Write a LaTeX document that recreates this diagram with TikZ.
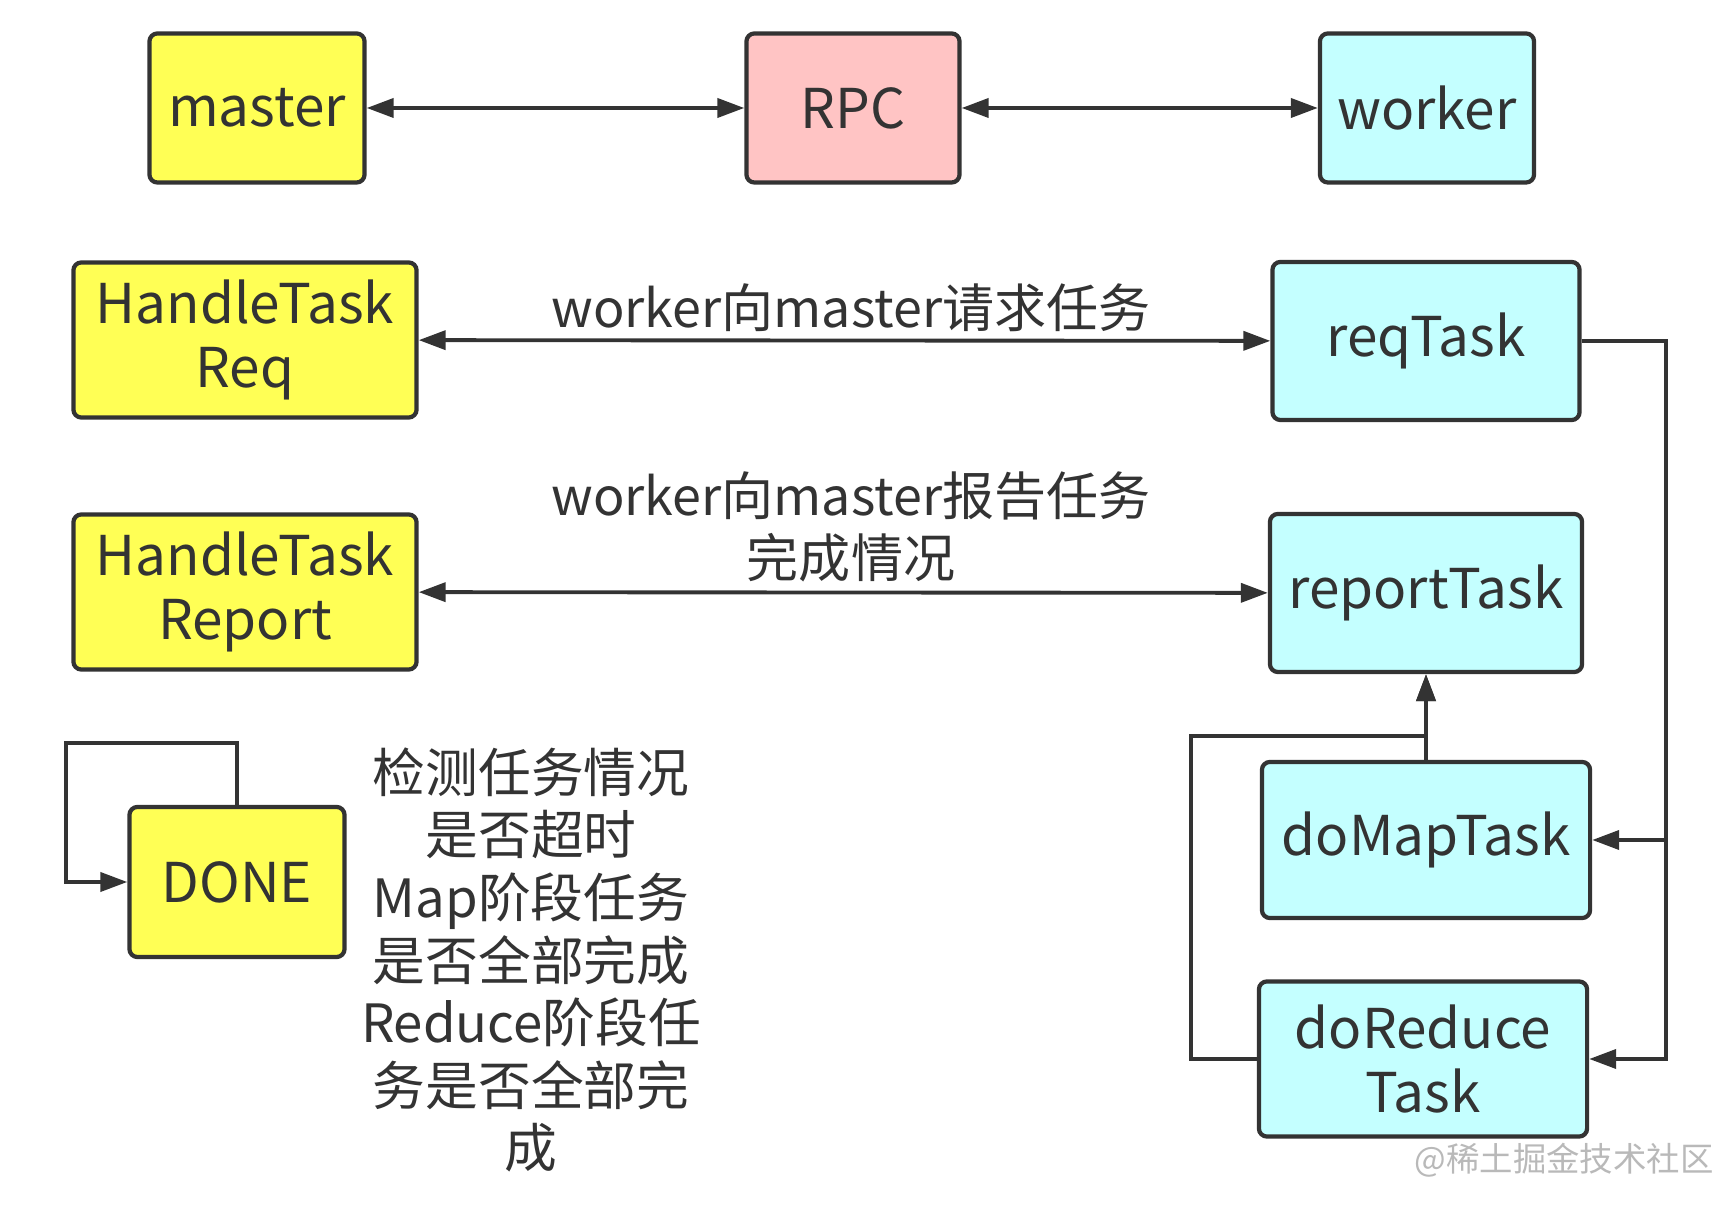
\documentclass[tikz,border=0pt]{standalone}
\usepackage{fontspec}
\setmainfont{Noto Sans CJK SC}
\usetikzlibrary{arrows.meta}
\definecolor{linec}{HTML}{333333}
\definecolor{yel}{HTML}{FFFF55}
\definecolor{pnk}{HTML}{FFC4C4}
\definecolor{cyn}{HTML}{C4FFFF}
\tikzset{
  box/.style={draw=linec,line width=1.2pt,rounded corners=0.08cm,inner sep=0pt,
    align=center,text=linec,font=\fontsize{15.6}{18.4}\selectfont},
  arr/.style={draw=linec,line width=1.1pt,-{Triangle[length=0.27cm,width=0.19cm]}},
  biarr/.style={arr,{Triangle[length=0.27cm,width=0.19cm]}-{Triangle[length=0.27cm,width=0.19cm]}},
  lbl/.style={align=center,text=linec,inner sep=0pt,font=\fontsize{14.8}{17.6}\selectfont}
}
\begin{document}
\begin{tikzpicture}[x=0.01cm,y=-0.01cm]
%\draw[gray,very thin] (0,0) grid[step=100] (1736,1210); %background grid
\useasboundingbox[fill=white] (0,0) rectangle (1736,1210);

% top row
\node[box,fill=yel,minimum width=2.15cm,minimum height=1.49cm] (master) at (257,108) {master};
\node[box,fill=pnk,minimum width=2.13cm,minimum height=1.49cm] (rpc)    at (853,108) {RPC};
\node[box,fill=cyn,minimum width=2.14cm,minimum height=1.49cm] (worker) at (1427,108) {worker};

\draw[biarr] (master) -- (rpc);
\draw[biarr] (rpc) -- (worker);

% master side
\node[box,fill=yel,minimum width=3.43cm,minimum height=1.55cm] (htreq)    at (245,340) {HandleTask\\Req};
\node[box,fill=yel,minimum width=3.43cm,minimum height=1.55cm] (htreport) at (245,592) {HandleTask\\Report};
\node[box,fill=yel,minimum width=2.15cm,minimum height=1.50cm] (done)     at (237,882) {DONE};

% worker side
\node[box,fill=cyn,minimum width=3.07cm,minimum height=1.58cm] (reqtask)    at (1426,341) {reqTask};
\node[box,fill=cyn,minimum width=3.12cm,minimum height=1.58cm] (reporttask) at (1426,593) {reportTask};
\node[box,fill=cyn,minimum width=3.28cm,minimum height=1.56cm] (domap)      at (1426,840) {doMapTask};
\node[box,fill=cyn,minimum width=3.28cm,minimum height=1.55cm] (doreduce)   at (1423,1059) {doReduce\\Task};

% texts
\node[lbl] (reqlbl)    at (851,308) {worker向master请求任务};
\node[lbl] (reportlbl) at (851,527) {worker向master报告任务\\完成情况};
\node[lbl,font=\fontsize{15}{17.8}\selectfont] (donelbl) at (531,960)
  {检测任务情况\\是否超时\\Map阶段任务\\是否全部完成\\Reduce阶段任\\务是否全部完\\成};
\node[text=gray!55,inner sep=0pt,font=\fontsize{9.5}{11}\selectfont] (mark) at (1564,1160) {@稀土掘金技术社区};

\draw[biarr] (htreq) -- (reqtask);
\draw[biarr] (htreport) -- (reporttask);

% worker flow
\coordinate (bus)  at (1666,341);
\coordinate (back) at (1191,736);
\coordinate (loop) at (66,743);
\draw[arr] (reqtask.east) -- (bus) |- (domap.east);
\draw[arr] (bus) |- (doreduce.east);
\draw[arr] (domap.north) -- (reporttask.south);
\draw[arr] (doreduce.west) -| (back) -| (reporttask.south);

% self loop
\draw[arr] (done.north) |- (loop) |- (done.west);

\end{tikzpicture}
\end{document}
